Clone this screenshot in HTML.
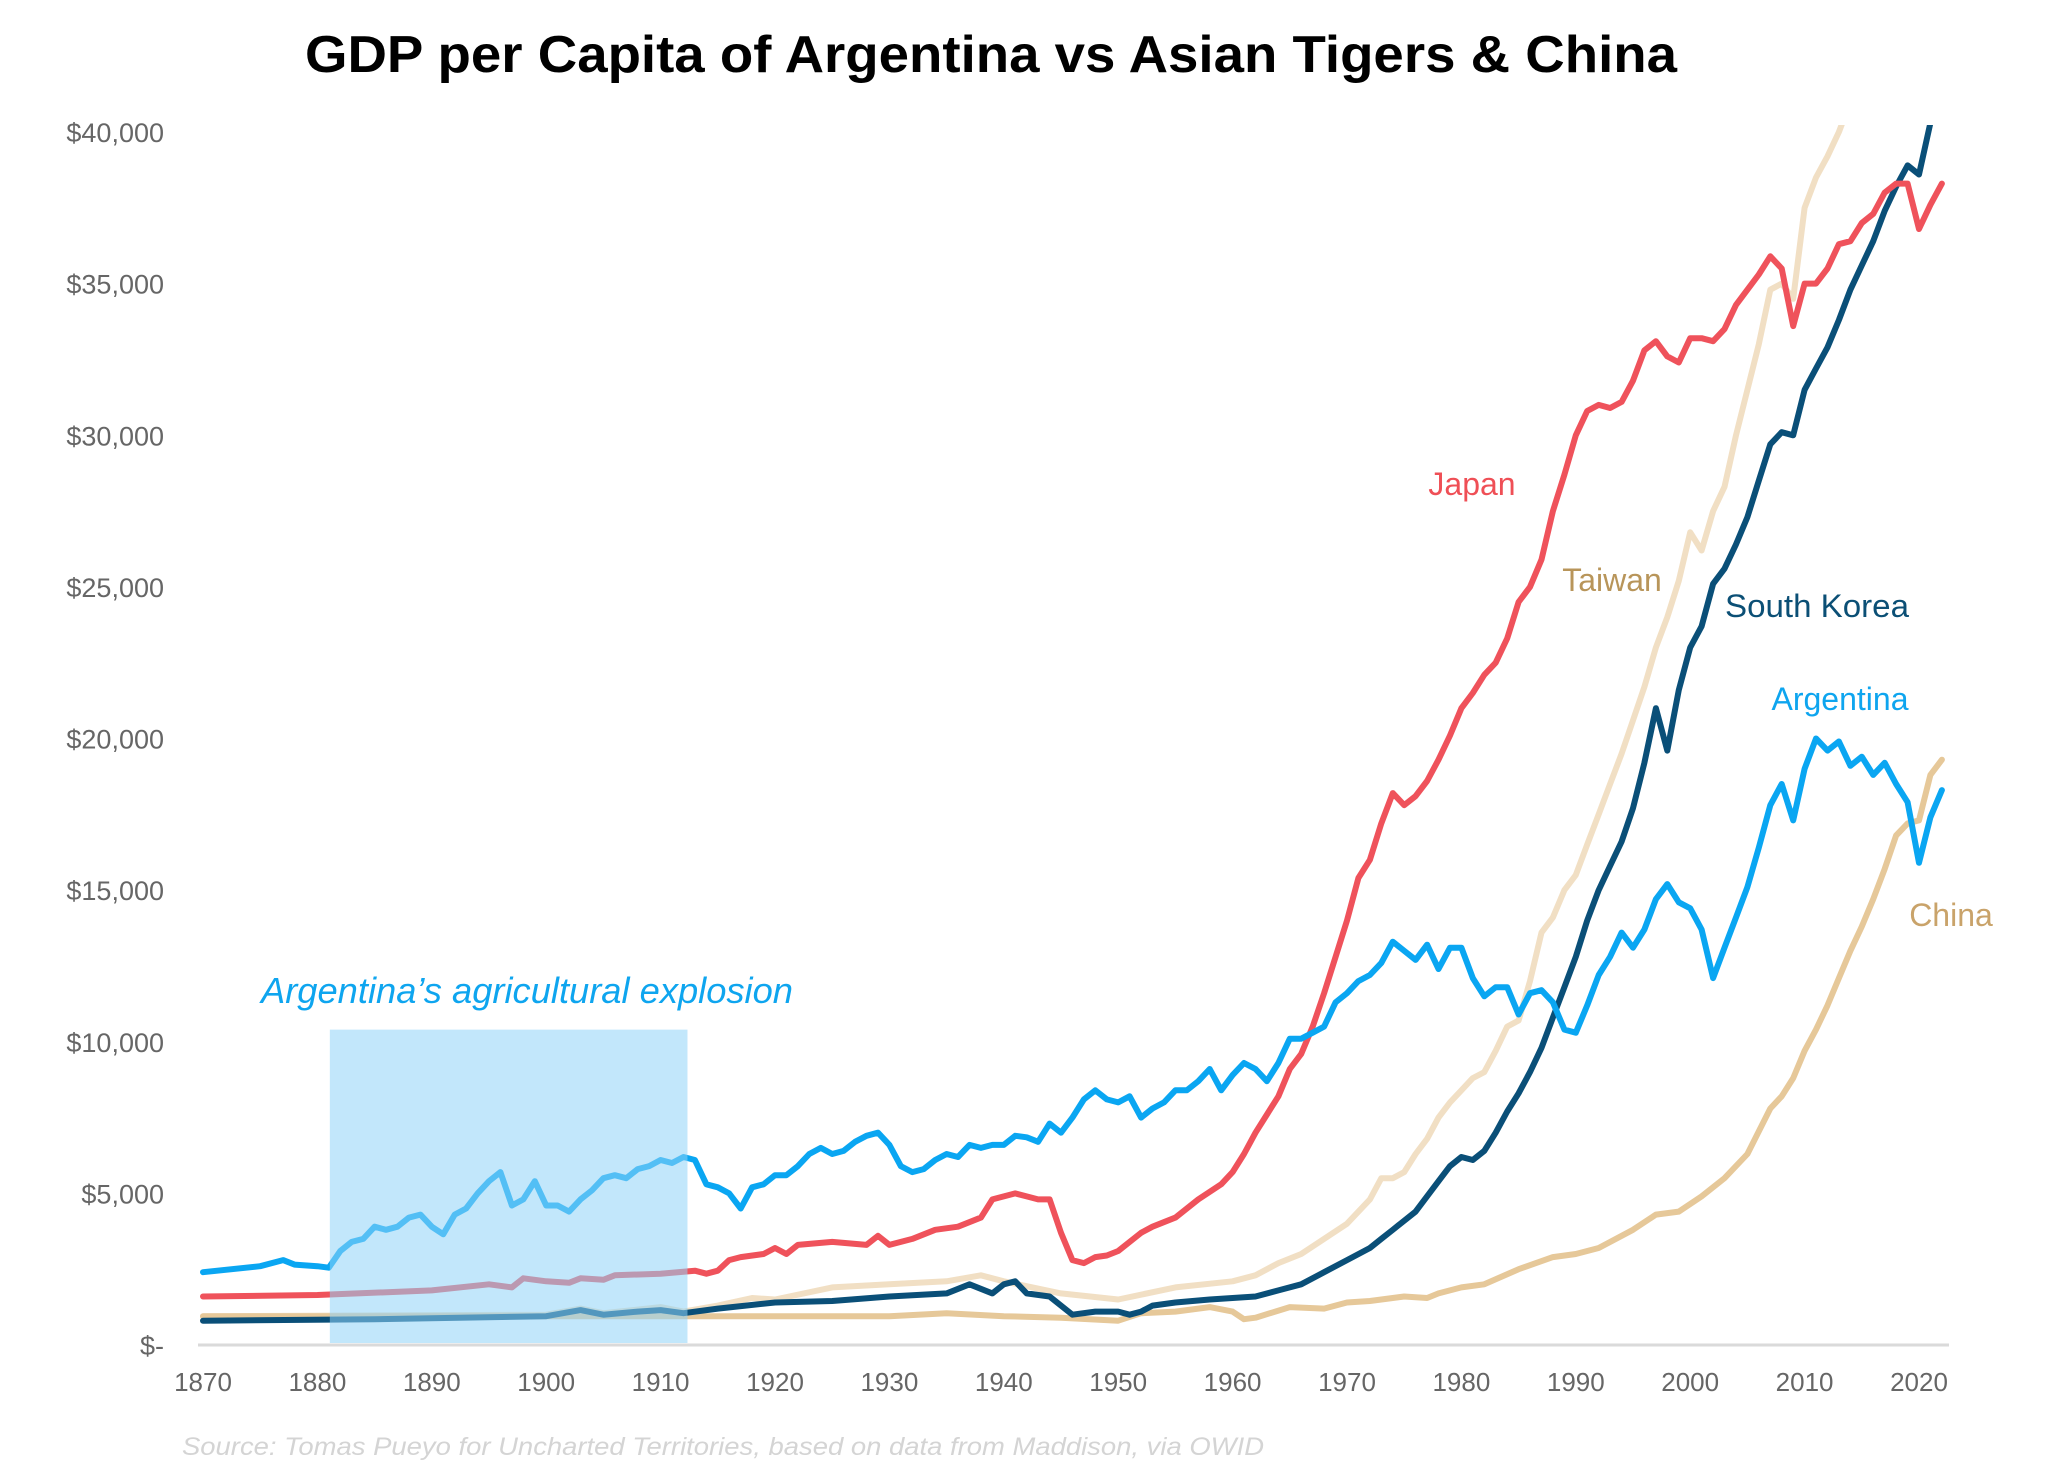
<!DOCTYPE html>
<html><head><meta charset="utf-8"><style>
html,body{margin:0;padding:0;background:#fff;}
svg{display:block;font-family:"Liberation Sans",Arial,sans-serif;}
</style></head><body>
<svg id="chart" width="2048" height="1482" viewBox="0 0 2048 1482">
<text x="991" y="72" text-anchor="middle" font-size="52" font-weight="bold" fill="#000" textLength="1372" lengthAdjust="spacingAndGlyphs">GDP per Capita of Argentina vs Asian Tigers &amp; China</text>
<g id="yaxis"></g>
<g id="xaxis"></g>
<clipPath id="clip"><rect x="190" y="125" width="1800" height="1240"/></clipPath>
<g id="lines" clip-path="url(#clip)"></g>
<rect id="hl" fill="#8fd3f8" fill-opacity="0.55"/>
<text x="527" y="1003" text-anchor="middle" font-size="36" font-style="italic" fill="#0ea5ef" textLength="532" lengthAdjust="spacingAndGlyphs">Argentina’s agricultural explosion</text>
<text x="1472" y="495" text-anchor="middle" font-size="32" fill="#ef4f56">Japan</text>
<text x="1612" y="591" text-anchor="middle" font-size="32" fill="#b8955a">Taiwan</text>
<text x="1817" y="617" text-anchor="middle" font-size="32" fill="#0b4f75" textLength="184" lengthAdjust="spacingAndGlyphs">South Korea</text>
<text x="1840" y="710" text-anchor="middle" font-size="32" fill="#0ea5ef">Argentina</text>
<text x="1951" y="926" text-anchor="middle" font-size="32" fill="#c9a36a">China</text>
<text x="182" y="1455" font-size="25" font-style="italic" fill="#d4d4d4" textLength="1082" lengthAdjust="spacingAndGlyphs">Source: Tomas Pueyo for Uncharted Territories, based on data from Maddison, via OWID</text>
</svg>
<script>
const yTicks=[0,5000,10000,15000,20000,25000,30000,35000,40000];
const yTickLabels=["$-","$5,000","$10,000","$15,000","$20,000","$25,000","$30,000","$35,000","$40,000"];
const xTicks=[1870,1880,1890,1900,1910,1920,1930,1940,1950,1960,1970,1980,1990,2000,2010,2020];
const highlightYears=[1881,1912];
const highlightTop=10400;

const argYears=[1870,1875,1877,1878,1880,1881,1882,1883,1884,1885,1886,1887,1888,1889,1890,1891,1892,1893,1894,1895,1896,1897,1898,1899,1900,1901,1902,1903,1904,1905,1906,1907,1908,1909,1910,1911,1912,1913,1914,1915,1916,1917,1918,1919,1920,1921,1922,1923,1924,1925,1926,1927,1928,1929,1930,1931,1932,1933,1934,1935,1936,1937,1938,1939,1940,1941,1942,1943,1944,1945,1946,1947,1948,1949,1950,1951,1952,1953,1954,1955,1956,1957,1958,1959,1960,1961,1962,1963,1964,1965,1966,1967,1968,1969,1970,1971,1972,1973,1974,1975,1976,1977,1978,1979,1980,1981,1982,1983,1984,1985,1986,1987,1988,1989,1990,1991,1992,1993,1994,1995,1996,1997,1998,1999,2000,2001,2002,2003,2004,2005,2006,2007,2008,2009,2010,2011,2012,2013,2014,2015,2016,2017,2018,2019,2020,2021,2022];
const argValues=[2400,2600,2800,2650,2600,2550,3100,3400,3500,3900,3800,3900,4200,4300,3900,3650,4300,4500,5000,5400,5700,4600,4800,5400,4600,4600,4400,4800,5100,5500,5600,5500,5800,5900,6100,6000,6200,6100,5300,5200,5000,4500,5200,5300,5600,5600,5900,6300,6500,6300,6400,6700,6900,7000,6600,5900,5700,5800,6100,6300,6200,6600,6500,6600,6600,6900,6850,6700,7300,7000,7500,8100,8400,8100,8000,8200,7500,7800,8000,8400,8400,8700,9100,8400,8900,9300,9100,8700,9300,10100,10100,10300,10500,11300,11600,12000,12200,12600,13300,13000,12700,13200,12400,13100,13100,12100,11500,11800,11800,10900,11600,11700,11300,10400,10300,11200,12200,12800,13600,13100,13700,14700,15200,14600,14400,13700,12100,13100,14100,15100,16400,17800,18500,17300,19000,20000,19600,19900,19100,19400,18800,19200,18500,17900,15900,17400,18300];

const jpnYears=[1870,1880,1890,1895,1897,1898,1900,1902,1903,1905,1906,1910,1913,1914,1915,1916,1917,1919,1920,1921,1922,1925,1928,1929,1930,1932,1934,1936,1938,1939,1940,1941,1942,1943,1944,1945,1946,1947,1948,1949,1950,1952,1953,1955,1957,1959,1960,1961,1962,1964,1965,1966,1967,1968,1969,1970,1971,1972,1973,1974,1975,1976,1977,1978,1979,1980,1981,1982,1983,1984,1985,1986,1987,1988,1989,1990,1991,1992,1993,1994,1995,1996,1997,1998,1999,2000,2001,2002,2003,2004,2005,2006,2007,2008,2009,2010,2011,2012,2013,2014,2015,2016,2017,2018,2019,2020,2021,2022];
const jpnValues=[1600,1650,1800,2000,1900,2200,2100,2050,2200,2150,2300,2350,2450,2350,2450,2800,2900,3000,3200,3000,3300,3400,3300,3600,3300,3500,3800,3900,4200,4800,4900,5000,4900,4800,4800,3700,2800,2700,2900,2950,3100,3700,3900,4200,4800,5300,5700,6300,7000,8200,9100,9600,10500,11600,12800,14000,15400,16000,17200,18200,17800,18100,18600,19300,20100,21000,21500,22100,22500,23300,24500,25000,25900,27500,28700,30000,30800,31000,30900,31100,31800,32800,33100,32600,32400,33200,33200,33100,33500,34300,34800,35300,35900,35500,33600,35000,35000,35500,36300,36400,37000,37300,38000,38300,38300,36800,37600,38300];

const korYears=[1870,1885,1900,1903,1905,1908,1910,1912,1915,1920,1925,1930,1935,1937,1939,1940,1941,1942,1944,1946,1948,1950,1951,1952,1953,1955,1958,1960,1962,1964,1966,1968,1970,1972,1973,1974,1976,1978,1979,1980,1981,1982,1983,1984,1985,1986,1987,1988,1989,1990,1991,1992,1993,1994,1995,1996,1997,1998,1999,2000,2001,2002,2003,2004,2005,2006,2007,2008,2009,2010,2011,2012,2013,2014,2015,2016,2017,2018,2019,2020,2021];
const korValues=[800,850,950,1150,1000,1100,1150,1050,1200,1400,1450,1600,1700,2000,1700,2000,2100,1700,1600,1000,1100,1100,1000,1100,1300,1400,1500,1550,1600,1800,2000,2400,2800,3200,3500,3800,4400,5400,5900,6200,6100,6400,7000,7700,8300,9000,9800,10800,11800,12800,14000,15000,15800,16600,17700,19200,21000,19600,21600,23000,23700,25100,25600,26400,27300,28500,29700,30100,30000,31500,32200,32900,33800,34800,35600,36400,37400,38200,38900,38600,40300];

const twnYears=[1870,1900,1903,1905,1910,1912,1915,1918,1920,1925,1930,1935,1938,1940,1945,1950,1955,1960,1962,1964,1966,1968,1970,1972,1973,1974,1975,1976,1977,1978,1979,1980,1981,1982,1983,1984,1985,1986,1987,1988,1989,1990,1991,1992,1993,1994,1995,1996,1997,1998,1999,2000,2001,2002,2003,2004,2005,2006,2007,2008,2009,2010,2011,2012,2013,2014];
const twnValues=[950,1000,1200,1050,1250,1100,1300,1550,1500,1900,2000,2100,2300,2100,1700,1500,1900,2100,2300,2700,3000,3500,4000,4800,5500,5500,5700,6300,6800,7500,8000,8400,8800,9000,9700,10500,10700,12000,13600,14100,15000,15500,16500,17500,18500,19500,20600,21700,23000,24000,25200,26800,26200,27500,28300,30000,31500,33000,34800,35000,34500,37500,38500,39200,40000,41000];

const chnYears=[1870,1900,1930,1935,1940,1945,1950,1952,1955,1958,1960,1961,1962,1965,1968,1970,1972,1975,1977,1978,1980,1982,1985,1988,1990,1992,1995,1997,1999,2001,2003,2005,2007,2008,2009,2010,2011,2012,2013,2014,2015,2016,2017,2018,2019,2020,2021,2022];
const chnValues=[950,950,950,1050,950,900,800,1050,1100,1250,1100,850,900,1250,1200,1400,1450,1600,1550,1700,1900,2000,2500,2900,3000,3200,3800,4300,4400,4900,5500,6300,7800,8200,8800,9700,10400,11200,12100,13000,13800,14700,15700,16800,17200,17300,18800,19300];

const NS="http://www.w3.org/2000/svg";
function x(yr){return 203+(yr-1870)*11.44;}
function y(v){return 1345-v*(1213/40000);}
function mk(tag,attrs,parent){const e=document.createElementNS(NS,tag);for(const k in attrs)e.setAttribute(k,attrs[k]);parent.appendChild(e);return e;}

const ya=document.getElementById('yaxis');
yTicks.forEach((t,i)=>{
  const tx=mk('text',{x:164,y:y(t)+10,'text-anchor':'end','font-size':27,fill:'#666'},ya);
  
  
  tx.textContent=yTickLabels[i];
});
const xa=document.getElementById('xaxis');
const al=mk('line',{x1:198,x2:1949,y1:1345,y2:1345,stroke:'#dadada','stroke-width':3},xa);


xTicks.forEach(t=>{
  const tx=mk('text',{x:x(t),y:1391,'text-anchor':'middle','font-size':26,fill:'#666'},xa);
  
  
  tx.textContent=t;
});

const hl=document.getElementById('hl');
hl.setAttribute('x',x(highlightYears[0])+1);
hl.setAttribute('width',x(highlightYears[1])-x(highlightYears[0])+3);
hl.setAttribute('y',y(highlightTop));
hl.setAttribute('height',1343-y(highlightTop));

const lg=document.getElementById('lines');
function line(yrs,vals,color,name){
  const d=yrs.map((yr,i)=>(i?'L':'M')+x(yr).toFixed(1)+','+y(vals[i]).toFixed(1)).join(' ');
  const p=mk('path',{d:d,fill:'none',stroke:color,'stroke-width':6,'stroke-linejoin':'round','stroke-linecap':'round'},lg);
  
  
}
line(twnYears,twnValues,'#f1dfc4','line-taiwan');
line(chnYears,chnValues,'#e6c899','line-china');
line(korYears,korValues,'#0a4f78','line-south-korea');
line(jpnYears,jpnValues,'#ef525b','line-japan');
line(argYears,argValues,'#0aa6f2','line-argentina');
</script>
</body></html>
